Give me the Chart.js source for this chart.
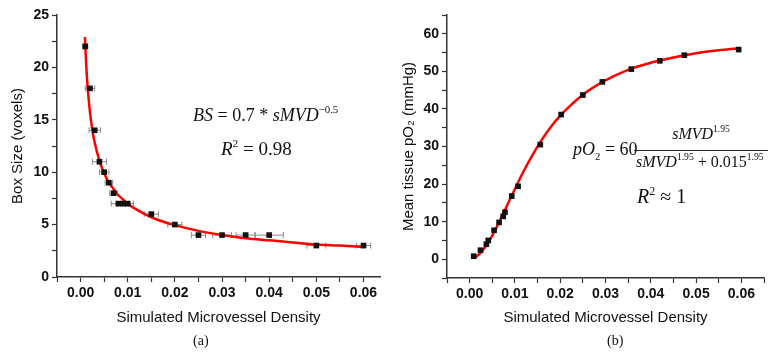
<!DOCTYPE html>
<html>
<head>
<meta charset="utf-8">
<script src="https://cdn.jsdelivr.net/npm/chart.js@4/dist/chart.umd.min.js"></script>
<style>
  body { margin: 0; background: #fff; width: 768px; height: 356px; position: relative; overflow: hidden; }
  canvas { position: absolute; top: 0; }
  .eq { position: absolute; font-family: "Liberation Serif", "DejaVu Serif", serif; font-style: italic; color: #111; white-space: nowrap; }
  .eq sup { font-size: 60%; vertical-align: 0; position: relative; top: -0.7em; }
  .cap { position: absolute; top: 333px; font-family: "Liberation Serif", serif; font-size: 14px; color: #111; }
</style>
</head>
<body>
<canvas id="chartA" width="384" height="356" style="left:0"></canvas>
<canvas id="chartB" width="384" height="356" style="left:384px"></canvas>

<div class="eq" style="left:193px; top:105px; font-size:18px;">BS <span style="font-style:normal">= 0.7 *</span> sMVD<sup style="font-style:normal">&minus;0.5</sup></div>
<div class="eq" style="left:221px; top:138px; font-size:19px;">R<sup style="font-style:normal">2</sup> <span style="font-style:normal">= 0.98</span></div>

<div class="eq" style="left:573px; top:139px; font-size:18px;">pO<sub style="font-size:60%;font-style:normal">2</sub> <span style="font-style:normal">= 60</span></div>
<div class="eq" style="left:634px; top:125px; width:134px; text-align:center; font-size:16px;">sMVD<sup style="font-style:normal">1.95</sup></div>
<div style="position:absolute; left:634px; top:150px; width:134px; height:1px; background:#222;"></div>
<div class="eq" style="left:636px; top:153px; font-size:16px;">sMVD<sup style="font-style:normal">1.95</sup> <span style="font-style:normal">+ 0.015<sup>1.95</sup></span></div>
<div class="eq" style="left:637px; top:185px; font-size:20px;">R<sup style="font-style:normal">2</sup> <span style="font-style:normal">&asymp; 1</span></div>

<div class="cap" style="left:193px;">(a)</div>
<div class="cap" style="left:607px;">(b)</div>

<script>
// (a) box size vs simulated microvessel density
const boxDensity = [0.001, 0.002, 0.003, 0.004, 0.005, 0.006, 0.007, 0.008, 0.009, 0.010, 0.015, 0.020, 0.025, 0.030, 0.035, 0.040, 0.050, 0.060];
const boxSize = [22, 18, 14, 11, 10, 9, 8, 7, 7, 7, 6, 5, 4, 4, 4, 4, 3, 3];
const boxDensityErr = [0.0005, 0.001, 0.0012, 0.0015, 0.001, 0.0008, 0.0008, 0.0015, 0.0012, 0.0012, 0.0015, 0.0015, 0.0015, 0.002, 0.002, 0.003, 0.002, 0.0015];
const boxFitX = [0.00093, 0.001, 0.0012, 0.0015, 0.002, 0.0025, 0.003, 0.004, 0.005, 0.006, 0.007, 0.008, 0.009, 0.010, 0.012, 0.015, 0.018, 0.020, 0.025, 0.030, 0.035, 0.040, 0.045, 0.050, 0.055, 0.060];
const boxFitY = [22.9, 22.1, 20.2, 18.1, 15.7, 14.0, 12.8, 11.1, 9.9, 9.0, 8.4, 7.8, 7.4, 7.0, 6.4, 5.7, 5.2, 4.95, 4.4, 4.0, 3.7, 3.5, 3.3, 3.1, 3.0, 2.86];

// (b) mean tissue pO2 vs simulated microvessel density
const po2Density = [0.0009, 0.0024, 0.0037, 0.0041, 0.0054, 0.0065, 0.0074, 0.0078, 0.0093, 0.0107, 0.0156, 0.0202, 0.0250, 0.0293, 0.0357, 0.0420, 0.0474, 0.0594];
const po2Values = [0.8, 2.4, 4.0, 5.0, 7.7, 9.8, 11.4, 12.5, 16.8, 19.4, 30.5, 38.5, 43.7, 47.2, 50.6, 52.8, 54.3, 55.8];
const po2FitX = [0.001, 0.002, 0.003, 0.004, 0.005, 0.006, 0.007, 0.008, 0.009, 0.010, 0.012, 0.014, 0.016, 0.018, 0.020, 0.025, 0.030, 0.035, 0.040, 0.045, 0.050, 0.055, 0.059];
const po2FitY = [0.3, 1.2, 2.5, 4.2, 6.3, 8.6, 11.1, 13.6, 16.2, 18.7, 23.6, 28.0, 31.9, 35.3, 38.2, 43.8, 47.6, 50.4, 52.3, 53.7, 54.8, 55.6, 56.1];

const xTitle = 'Simulated Microvessel Density';
const axisFont = { family: 'Liberation Sans, Arial, sans-serif', size: 14, weight: 'bold' };
const titleFont = { family: 'Liberation Sans, Arial, sans-serif', size: 15 };

const toPoints = (xs, ys) => xs.map((x, i) => ({ x: x, y: ys[i] }));

// horizontal error bars drawn under the markers
const errorBars = {
  id: 'errorBars',
  beforeDatasetsDraw(chart, args, opts) {
    if (!opts.err) return;
    const ctx = chart.ctx;
    const xs = chart.scales.x, ys = chart.scales.y;
    const data = chart.data.datasets[0].data;
    ctx.save();
    ctx.strokeStyle = '#8a8a8a';
    ctx.lineWidth = 1;
    data.forEach((p, i) => {
      const y = ys.getPixelForValue(p.y);
      const x1 = xs.getPixelForValue(p.x - opts.err[i]);
      const x2 = xs.getPixelForValue(p.x + opts.err[i]);
      ctx.beginPath();
      ctx.moveTo(x1, y); ctx.lineTo(x2, y);
      ctx.moveTo(x1, y - 3); ctx.lineTo(x1, y + 3);
      ctx.moveTo(x2, y - 3); ctx.lineTo(x2, y + 3);
      ctx.stroke();
    });
    ctx.restore();
  }
};

function makeChart(id, cfg) {
  const isMajorX = v => Math.round(v / 0.005) % 2 === 0;
  return new Chart(document.getElementById(id), {
    type: 'scatter',
    data: {
      datasets: [
        {
          data: toPoints(cfg.px, cfg.py),
          pointStyle: 'rect',
          pointRadius: 4,
          pointHoverRadius: 4,
          backgroundColor: '#111',
          borderColor: '#111',
          borderWidth: 0
        },
        {
          type: 'line',
          data: toPoints(cfg.fx, cfg.fy),
          borderColor: '#ff0000',
          borderWidth: 2.5,
          pointRadius: 0,
          cubicInterpolationMode: 'monotone',
          fill: false
        }
      ]
    },
    options: {
      responsive: false,
      animation: false,
      layout: { padding: cfg.padding },
      plugins: {
        legend: { display: false },
        tooltip: { enabled: false },
        errorBars: { err: cfg.err }
      },
      scales: {
        x: {
          type: 'linear',
          min: -0.005,
          max: cfg.xMax,
          afterBuildTicks: s => {
            const t = [];
            for (let k = -1; k * 0.005 <= cfg.xMax + 1e-9; k++) t.push({ value: k * 0.005 });
            s.ticks = t;
          },
          afterFit: s => { s.height = cfg.xHeight; },
          border: { display: true, color: '#333', width: 1.5 },
          grid: { drawOnChartArea: false, drawTicks: true, tickLength: 5, tickColor: '#333', tickWidth: 1.2 },
          ticks: {
            autoSkip: false, maxRotation: 0, color: '#111', font: axisFont, padding: 3,
            callback: v => (v >= 0 && isMajorX(v)) ? v.toFixed(2) : ''
          },
          title: { display: true, text: xTitle, color: '#111', font: titleFont, padding: { top: 4, bottom: 5 } }
        },
        y: {
          min: cfg.yMin,
          max: cfg.yMax,
          afterBuildTicks: s => {
            const t = [];
            for (let v = cfg.yMin; v <= cfg.yMax + 1e-9; v += cfg.yMinor) t.push({ value: v });
            s.ticks = t;
          },
          afterFit: s => { s.width = cfg.yWidth; },
          border: { display: true, color: '#333', width: 1.5 },
          grid: { drawOnChartArea: false, drawTicks: true, tickLength: 5, tickColor: '#333', tickWidth: 1.2 },
          ticks: {
            autoSkip: false, color: '#111', font: axisFont, padding: 3,
            callback: v => (Math.abs(v % cfg.yMajor) < 1e-9 && v >= 0 && v <= cfg.yLabelMax) ? String(v) : ''
          },
          title: { display: true, text: cfg.yTitle, color: '#111', font: titleFont, padding: { top: 4, bottom: 4 } }
        }
      }
    },
    plugins: [errorBars]
  });
}

makeChart('chartA', {
  px: boxDensity, py: boxSize, fx: boxFitX, fy: boxFitY, err: boxDensityErr,
  xMax: 0.0635, yMin: 0, yMax: 25, yMinor: 2.5, yMajor: 5, yLabelMax: 25,
  yTitle: 'Box Size (voxels)',
  padding: { top: 15, right: 4, bottom: 24, left: 5 },
  xHeight: 55, yWidth: 52
});

makeChart('chartB', {
  px: po2Density, py: po2Values, fx: po2FitX, fy: po2FitY, err: null,
  xMax: 0.065, yMin: -5, yMax: 65, yMinor: 5, yMajor: 10, yLabelMax: 60,
  yTitle: 'Mean tissue pO\u2082 (mmHg)',
  padding: { top: 15, right: 0, bottom: 24, left: 12 },
  xHeight: 54, yWidth: 51
});
</script>
</body>
</html>
